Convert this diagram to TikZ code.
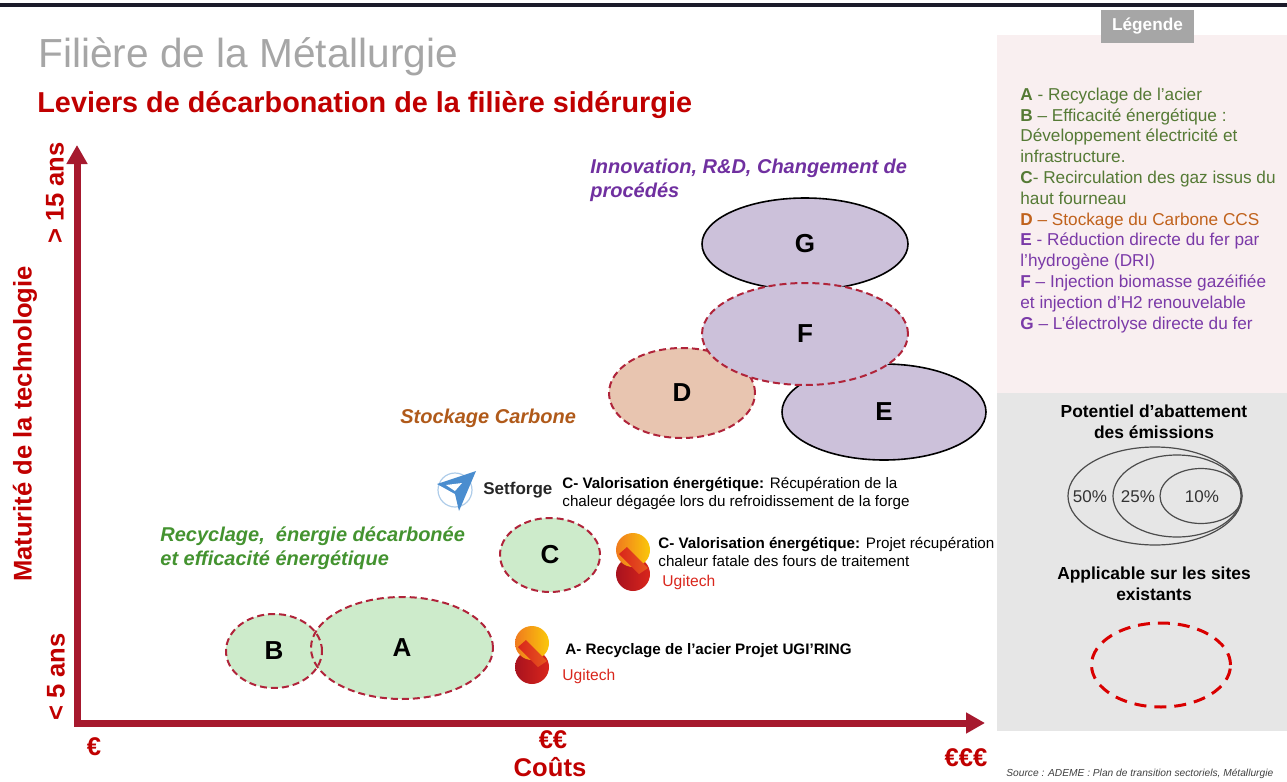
\documentclass[tikz,border=0pt]{standalone}
\usepackage{fontspec}
\setmainfont{Liberation Sans}
\usetikzlibrary{shapes.geometric,arrows.meta,positioning}

\definecolor{topline}{HTML}{1B1B2A}
\definecolor{titlegray}{HTML}{A6A6A6}
\definecolor{labred}{HTML}{C00000}
\definecolor{axisred}{HTML}{A6192E}
\definecolor{dashred}{HTML}{B0243A}
\definecolor{lavender}{HTML}{CCC1DA}
\definecolor{peach}{HTML}{E8C5B0}
\definecolor{mint}{HTML}{CDEBCB}
\definecolor{purpletxt}{HTML}{7030A0}
\definecolor{browntxt}{HTML}{B05A1A}
\definecolor{greentxt}{HTML}{449330}
\definecolor{leggreen}{HTML}{557A35}
\definecolor{legbrown}{HTML}{C0621C}
\definecolor{legpurple}{HTML}{7B3AA8}
\definecolor{legpink}{HTML}{F9EFF0}
\definecolor{leggray}{HTML}{E6E6E6}
\definecolor{setblue}{HTML}{4A8DCF}
\definecolor{ugred}{HTML}{D9261C}
\definecolor{ugdark}{HTML}{A8121E}
\definecolor{ugorange}{HTML}{F07A1E}
\definecolor{ugyellow}{HTML}{FAC80A}

\begin{document}
\begin{tikzpicture}[x=0.5pt,y=-0.5pt]
	\tikzstyle{lever}    = [ellipse, inner sep=0pt, font=\fontsize{13}{13}\selectfont\bfseries]
	\tikzstyle{existing} = [draw=dashred, line width=1pt, dash pattern=on 3.5pt off 2pt]
	\tikzstyle{mature}   = [draw=black, line width=0.8pt]
	\tikzstyle{axislabel}= [text=labred, font=\fontsize{12.8}{14}\selectfont\bfseries, inner sep=0pt]
	\tikzstyle{family}   = [anchor=base west, align=left, inner sep=0pt, font=\fontsize{10}{12}\selectfont\bfseries\itshape]
	\tikzstyle{callout}  = [anchor=base west, align=left, inner sep=0pt, font=\fontsize{7.6}{8.8}\selectfont]
	\tikzstyle{ugitech}  = [anchor=base west, inner sep=0pt, text=ugred, font=\fontsize{7.8}{9}\selectfont]

	\useasboundingbox (0,0) rectangle (1287,782);

	% page header
	\fill[topline] (0,3) rectangle (1287,7);
	\node[anchor=base west, inner sep=0pt, text=titlegray, font=\fontsize{20.3}{24}\selectfont] (title) at (38,67) {Filière de la Métallurgie};
	\node[anchor=base west, inner sep=0pt, text=labred, font=\fontsize{14.4}{17}\selectfont\bfseries] (subtitle) at (37,112) {Leviers de décarbonation de la filière sidérurgie};

	% axes
	\coordinate (origin) at (77,723);
	\coordinate (ytip) at (77,145);
	\coordinate (xtip) at (985,723);
	\draw[axisred, line width=3.5pt, {Triangle[width=10pt,length=9.5pt]}-{Triangle[width=10pt,length=9.5pt]}] (ytip) -- (origin) -- (xtip);

	\node[axislabel, rotate=90] (long) at (55,193) {> 15 ans};
	\node[axislabel, rotate=90] (short) at (56,677) {< 5 ans};
	\node[axislabel, rotate=90] (ylabel) at (25,424) {Maturité de la technologie};
	\foreach \name/\x/\y/\txt in {low/94/747/€, mid/553/740/€€, high/966/758/€€€, xlabel/550/767/Coûts}
		\node[axislabel] (\name) at (\x,\y) {\txt};

	% levers
	\foreach \name/\x/\y/\rx/\ry/\col/\look in {G/805/244/103/46/lavender/mature, E/884/412/102/48/lavender/mature, D/682/393/73/45/peach/existing, F/805/334/103/51/lavender/existing}
		\node[lever, fill=\col, \look, minimum width=\rx pt, minimum height=\ry pt] (\name) at (\x,\y) {\name};

	\foreach \x/\y/\rx/\ry in {274/651/48/37, 402/648/91/51, 550/555/50/37}
		\node[lever, fill=mint, minimum width=\rx pt, minimum height=\ry pt] at (\x,\y) {};
	\foreach \name/\x/\y/\rx/\ry in {B/274/651/48/37, A/402/648/91/51, C/550/555/50/37}
		\node[lever, existing, minimum width=\rx pt, minimum height=\ry pt] (\name) at (\x,\y) {\name};

	% families (base = last line)
	\node[family, text=purpletxt] (innov) at (590,197) {Innovation, R\&D, Changement de\\procédés};
	\node[family, text=browntxt] (stock) at (400,423) {Stockage Carbone};
	\node[family, text=greentxt] (recy) at (160,565) {Recyclage,\ \ énergie décarbonée\\et efficacité énergétique};

	% Setforge
	\draw[setblue!45, line width=0.6pt] (455,490) circle [radius=8.5pt];
	\fill[setblue] (437,484) -- (476,471) -- (459,511) -- (455,494) -- cycle;
	\fill[white] (446,485) -- (462,483) -- (455,491) -- cycle;
	\node[anchor=base west, inner sep=0pt, font=\fontsize{8.5}{10}\selectfont\bfseries, text=black!85] (setforge) at (483,494) {Setforge};
	\node[callout] (callC1) at (562,506) {\textbf{C- Valorisation énergétique:} Récupération de la\\chaleur dégagée lors du refroidissement de la forge};

	% Ugitech
	\foreach \lx/\ly in {633/562, 532/655} {
		\shade[left color=ugdark, right color=ugred] (\lx,\ly+12) circle [radius=8.5pt];
		\shade[left color=ugorange, right color=ugyellow] (\lx,\ly-12) circle [radius=8.5pt];
		\shade[left color=ugred, right color=ugorange!60!ugred] (\lx-14,\ly-8) -- (\lx-6,\ly-15) -- (\lx+15,\ly+6) -- (\lx+6,\ly+12) -- cycle;
	}
	\node[callout] (callC2) at (658,566) {\textbf{C- Valorisation énergétique:} Projet récupération\\chaleur fatale des fours de traitement};
	\node[ugitech] (ugi1) at (662,586) {Ugitech};
	\node[callout, font=\fontsize{7.6}{8.8}\selectfont\bfseries] (callA) at (565,654) {A- Recyclage de l’acier Projet UGI’RING};
	\node[ugitech] (ugi2) at (562,680) {Ugitech};

	% legend
	\fill[legpink] (997,35) rectangle (1287,393);
	\fill[leggray] (997,393) rectangle (1287,731);
	\node[fill=titlegray, text=white, minimum width=46.5pt, minimum height=16.5pt, inner sep=0pt, font=\fontsize{8.6}{10}\selectfont\bfseries] (legtitle) at (1147.5,26.5) {Légende};
	\node[anchor=base west, align=left, inner sep=0pt, font=\fontsize{8.6}{10.4}\selectfont] (legtext) at (1020,329) {%
		\textcolor{leggreen}{\textbf{A} - Recyclage de l’acier}\\
		\textcolor{leggreen}{\textbf{B} – Efficacité énergétique :}\\
		\textcolor{leggreen}{Développement électricité et}\\
		\textcolor{leggreen}{infrastructure.}\\
		\textcolor{leggreen}{\textbf{C}- Recirculation des gaz issus du}\\
		\textcolor{leggreen}{haut fourneau}\\
		\textcolor{legbrown}{\textbf{D} – Stockage du Carbone CCS}\\
		\textcolor{legpurple}{\textbf{E} - Réduction directe du fer par}\\
		\textcolor{legpurple}{l’hydrogène (DRI)}\\
		\textcolor{legpurple}{\textbf{F} – Injection biomasse gazéifiée}\\
		\textcolor{legpurple}{et injection d’H2 renouvelable}\\
		\textcolor{legpurple}{\textbf{G} – L’électrolyse directe du fer}};

	\node[align=center, inner sep=0pt, font=\fontsize{8.7}{10.4}\selectfont\bfseries] (potentiel) at (1154,422) {Potentiel d’abattement\\des émissions};
	\foreach \name/\x/\rx/\ry in {abat50/1155/87/49, abat25/1177/64/41, abat10/1201/41/27.5}
		\node[ellipse, draw=black!70, line width=0.6pt, minimum width=\rx pt, minimum height=\ry pt] (\name) at (\x,496) {};
	\foreach \x/\txt in {1090/50\%, 1138/25\%, 1202/10\%}
		\node[font=\fontsize{8.5}{10}\selectfont, text=black!80] at (\x,497) {\txt};

	\node[align=center, inner sep=0pt, font=\fontsize{8.7}{10.4}\selectfont\bfseries] (applicable) at (1154,584) {Applicable sur les sites\\existants};
	\node[ellipse, draw=red!85!black, line width=1.5pt, dash pattern=on 6pt off 4pt, minimum width=69.5pt, minimum height=42pt] (existant) at (1161,665) {};

	\node[anchor=base west, inner sep=0pt, text=black!75, font=\fontsize{5.1}{6}\selectfont\itshape] (source) at (1006,776) {Source : ADEME : Plan de transition sectoriels, Métallurgie};
\end{tikzpicture}
\end{document}
